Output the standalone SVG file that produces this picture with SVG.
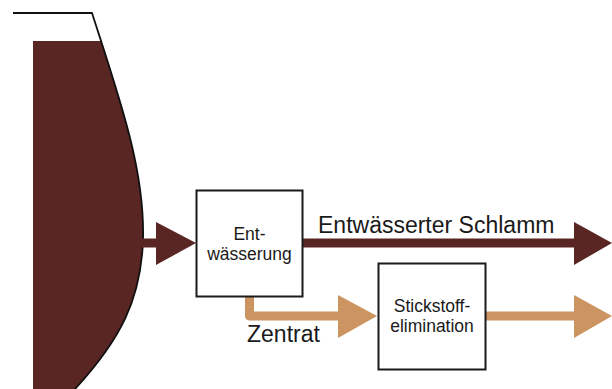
<svg xmlns="http://www.w3.org/2000/svg" width="612" height="389" viewBox="0 0 612 389">
<style>
.box{fill:#fff;stroke:#1a1a1a;stroke-width:2}
.t{font-family:"Liberation Sans",Arial,sans-serif;fill:#1a1a1a}
.s{font-size:17.5px;text-anchor:middle}
.b{font-size:23px}
.brown{fill:#5a2624}
.orange{fill:#cc9460}
</style>
<defs>
<clipPath id="below"><rect x="0" y="41" width="612" height="348"/></clipPath>
</defs>
<g id="tank">
<path class="brown" clip-path="url(#below)" d="M33,13 L92,13 C120,100 145,170 143,240 C141,300 120,340 75,389 L33,389 Z"/>
<path d="M13,13 L92,13 C120,100 145,170 143,240 C141,300 120,340 75,389" fill="none" stroke="#111" stroke-width="1.8"/>
</g>
<g id="connectors">
<rect class="brown" x="141" y="238.5" width="16" height="9"/>
<polygon class="brown" points="156,222 196,243 156,265"/>
<rect class="brown" x="302" y="238.5" width="273" height="9"/>
<polygon class="brown" points="574,222 612,243 574,265"/>
<path d="M249.5,296 L249.5,316 L340,316" fill="none" stroke="#cc9460" stroke-width="9" stroke-linejoin="round"/>
<polygon class="orange" points="338,295 377,316 338,338"/>
<rect class="orange" x="485" y="311.5" width="90" height="9"/>
<polygon class="orange" points="574,295 612,316 574,338"/>
</g>
<g id="entwaesserung">
<rect class="box" x="196.5" y="190.5" width="106" height="106"/>
<text class="t s" x="249.5" y="240">Ent-</text>
<text class="t s" x="249.5" y="260">wässerung</text>
</g>
<g id="stickstoff">
<rect class="box" x="378.5" y="263.5" width="107" height="106"/>
<text class="t s" x="432" y="312">Stickstoff-</text>
<text class="t s" x="432" y="332">elimination</text>
</g>
<g id="labels">
<text class="t b" x="318" y="233">Entwässerter Schlamm</text>
<text class="t b" x="247" y="342">Zentrat</text>
</g>
</svg>
